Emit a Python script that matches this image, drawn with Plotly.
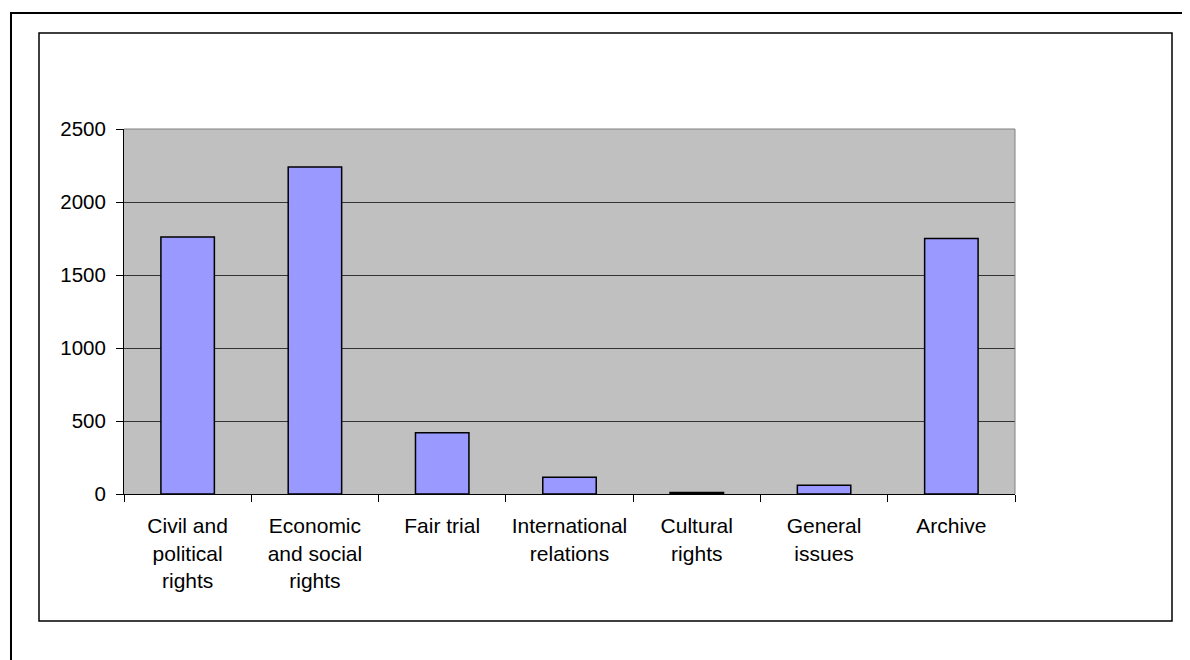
import plotly.graph_objects as go

categories = ["Civil and<br>political<br>rights", "Economic<br>and social<br>rights", "Fair trial",
              "International<br>relations", "Cultural<br>rights", "General<br>issues", "Archive"]
values = [1760, 2240, 420, 115, 10, 60, 1750]
y_ticks = [0, 500, 1000, 1500, 2000, 2500]

# page body has an 8px margin; positions below are reference pixels minus that offset
OFF = 8
W, H = 1190, 660
L, R, T, B = 124 - OFF, 1015 - OFF, 129 - OFF, 494 - OFF

def px(x):
    return (x - OFF - L) / (R - L)

def py(y):
    return (B - (y - OFF)) / (B - T)

fig = go.Figure(go.Bar(
    x=categories, y=values,
    marker=dict(color="#9999FF", line=dict(color="black", width=1.5)),
))

font = dict(family="Liberation Sans, Arial, sans-serif", size=21, color="black")

fig.update_layout(
    width=W, height=H,
    margin=dict(l=L, r=W - R, t=T, b=H - B, pad=0),
    paper_bgcolor="white", plot_bgcolor="#C0C0C0",
    bargap=0.58, showlegend=False, font=font,
    xaxis=dict(type="category", tickson="boundaries", ticks="outside", ticklen=7,
               tickcolor="black", showline=True, linecolor="black", linewidth=1,
               showgrid=False, tickangle=0, ticklabelstandoff=13),
    yaxis=dict(range=[0, 2500], tickvals=y_ticks, ticks="outside", ticklen=7,
               tickcolor="black", showline=True, linecolor="black", linewidth=1,
               showgrid=True, gridcolor="#333333", gridwidth=1, zeroline=False,
               tickfont=dict(size=20.5), ticklabelstandoff=6),
    shapes=[
        dict(type="rect", xref="paper", yref="paper", x0=px(39), x1=px(1172), y0=py(621), y1=py(33),
             line=dict(color="black", width=1.5), fillcolor="rgba(0,0,0,0)", layer="below"),
        dict(type="rect", xref="paper", yref="paper", x0=px(11), x1=px(1300), y0=py(760), y1=py(13),
             line=dict(color="black", width=2), fillcolor="rgba(0,0,0,0)", layer="below"),
        dict(type="line", xref="paper", yref="paper", x0=1, x1=1, y0=0, y1=1,
             line=dict(color="#808080", width=1)),
        dict(type="line", xref="paper", yref="paper", x0=0, x1=1, y0=1, y1=1,
             line=dict(color="#808080", width=1)),
    ],
)

fig.write_html("out.html")
